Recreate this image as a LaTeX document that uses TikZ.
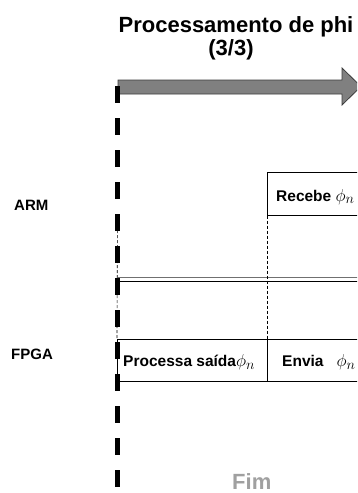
\documentclass[tikz,border=0pt]{standalone}
\usepackage{fontspec}
\setmainfont{Liberation Sans}
\definecolor{arrowfill}{HTML}{808080}
\definecolor{arrowedge}{HTML}{3C3C3C}
\definecolor{rulegray}{HTML}{707070}
\definecolor{fimgray}{HTML}{A0A0A0}
\newcommand{\phin}{{\fontsize{19}{22}\selectfont$\phi_n$}}
\tikzset{
  titletext/.style={font=\fontsize{22}{25}\selectfont\bfseries, inner sep=0pt},
  rowlabel/.style={font=\fontsize{15}{18}\selectfont\bfseries, inner sep=0pt, anchor=base west},
  cell/.style={draw=black, line width=0.7pt, anchor=north west, inner sep=0pt},
  celltext/.style={font=\fontsize{15.5}{18}\selectfont\bfseries, inner sep=0pt, anchor=base west},
  guide/.style={line width=0.6pt, dash pattern=on 3pt off 2pt},
  bigdash/.style={line width=5pt, dash pattern=on 17pt off 15pt},
  bigarrow/.style={fill=arrowfill, draw=arrowedge, line width=0.8pt, line join=miter},
}
\begin{document}
\begin{tikzpicture}[x=1pt, y=-1pt]
\useasboundingbox (0,0) rectangle (357,493);
\clip (0,0) rectangle (357,493);

% heading
\node[titletext, anchor=base] (title) at (236,32) {Processamento de phi};
\node[titletext, anchor=base] (part) at (231,55.5) {(3/3)};

% time arrow
\coordinate (tstart) at (118,80);
\draw[bigarrow] (tstart) -- (342,80) -- (342,68) -- (361,86.5) -- (342,105)
  -- (342,94) -- (118,94) -- cycle;

% row labels
\node[rowlabel] (arm) at (14,210) {ARM};
\node[rowlabel] (fpga) at (11,359) {FPGA};

% ARM row
\node[cell, minimum width=140pt, minimum height=43pt] (recebe) at (267,172) {};
\node[celltext] (recebetxt) at (276,201) {Recebe \phin};

% separator between rows
\coordinate (sepA) at (117.5,277);
\coordinate (sepB) at (117.5,281);
\draw[rulegray, line width=0.8pt] (sepA) -- ++(260,0);
\draw[black, line width=0.8pt] (sepB) -- ++(260,0);

% FPGA row
\node[cell, minimum width=150pt, minimum height=42pt] (processa) at (117,339) {};
\node[cell, minimum width=140pt, minimum height=42pt] (envia) at (267,339) {};
\node[celltext] (processatxt) at (123,366.5) {Processa saída\phin};
\node[celltext] (enviatxt) at (282,366.5) {Envia\hspace{13pt}\phin};

% thin guides
\draw[guide] (recebe.south west) -- (envia.north west);
\coordinate (gtop) at (117.5,215);
\draw[guide] (gtop) -- (processa.north west);

% boundary marker
\coordinate (btop) at (117.5,86);
\coordinate (bbot) at (117.5,493);
\draw[bigdash] (btop) -- (bbot);

% end label
\node[font=\fontsize{22}{25}\selectfont\bfseries, text=fimgray, inner sep=0pt, anchor=base west] (fim) at (232,489) {Fim};
\end{tikzpicture}
\end{document}
